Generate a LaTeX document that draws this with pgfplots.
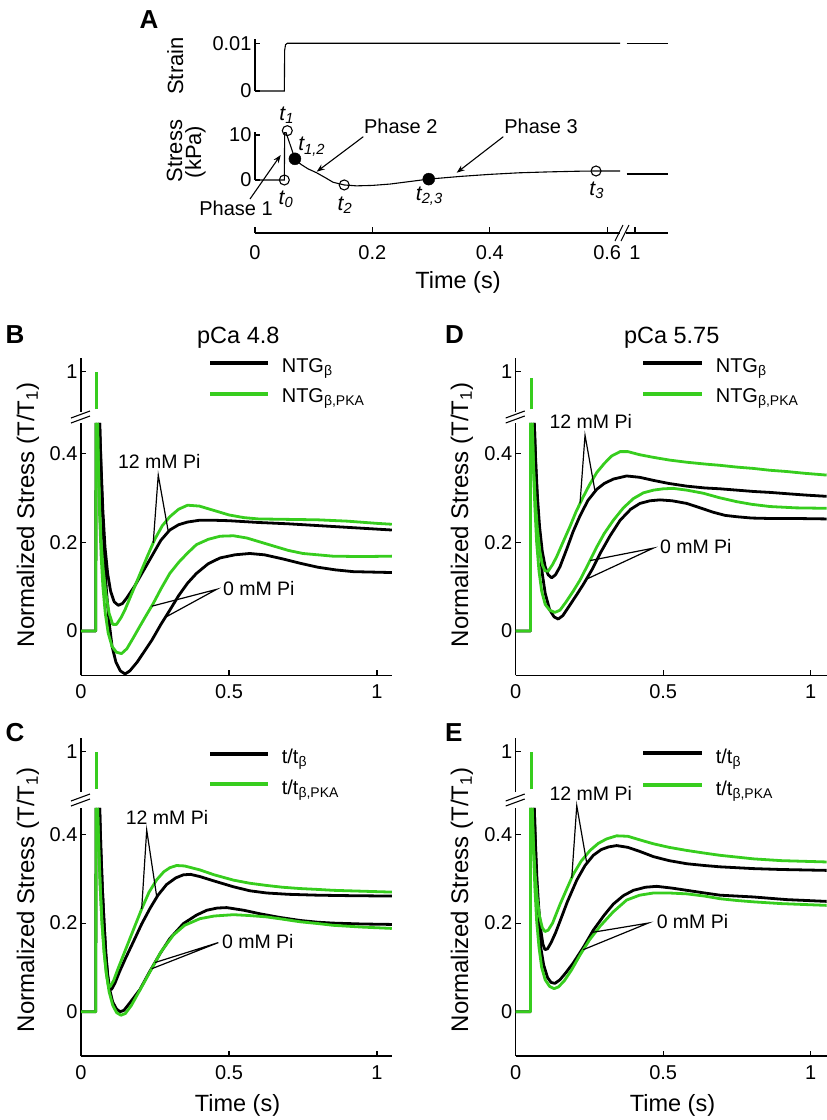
\documentclass[border=0pt]{standalone}
\usepackage{pgfplots}
\pgfplotsset{compat=1.18}
\usepackage{fontspec}
\setmainfont{Liberation Sans}
\usetikzlibrary{arrows.meta}
\definecolor{grn}{RGB}{55,205,30}
\newcommand\fs[1]{\fontsize{#1}{#1}\selectfont}
\tikzset{
  k/.style={black, line width=2.8pt, line join=round},
  g/.style={grn, line width=2.8pt, line join=round},
  ptr/.style={black, line width=1.2pt},
}
\pgfplotsset{
  myax/.style={scale only axis, anchor=south west, clip=false,
    axis line style={line width=1.1pt,-},
    every outer x axis line/.append style={-}, every outer y axis line/.append style={-},
    every inner x axis line/.append style={-}, every inner y axis line/.append style={-},
    tick style={line width=1.1pt, black}, major tick length=5pt, tick align=inside,
    tick label style={font=\fs{20}}, scaled y ticks=false, scaled x ticks=false,
    /pgf/number format/assume math mode=true},
  lowL/.style={myax, width=311pt, xmin=0, xmax=1.0507, ymin=-0.1,
    axis x line*=bottom, axis y line*=left, xtick={0,0.5,1}, ytick={0,0.2,0.4},
    xticklabel style={yshift=-6pt}},
  lowR/.style={lowL, xmax=1.0542},
  upL/.style={myax, width=311pt, height=54pt, xmin=0, xmax=1.0507, ymin=0.7, ymax=1.1,
    hide x axis, axis y line*=left, ytick={1}},
  upR/.style={upL, xmax=1.0542},
}
\begin{document}
\begin{tikzpicture}
\useasboundingbox (0pt,0pt) rectangle (827pt,-1120pt);

% ================= Panel A =================
\begin{axis}[myax, at={(255pt,-91pt)}, width=413pt, height=52.5pt,
  xmin=0, xmax=0.7036, ymin=0, ymax=0.011, hide x axis, axis y line*=left,
  ytick={0,0.01}, yticklabels={0,0.01}]
\addplot[black, line width=1.1pt] coordinates {(0,0)(0.05,0)(0.0505,0.0085)(0.052,0.0097)(0.055,0.01)(0.622,0.01)};
\addplot[black, line width=1.1pt] coordinates {(0.6332,0.01)(0.7036,0.01)};
\end{axis}

\begin{axis}[myax, at={(255pt,-180pt)}, width=413pt, height=48.2pt,
  xmin=0, xmax=0.7036, ymin=0, ymax=10.7, hide x axis, axis y line*=left,
  ytick={0,10}]
\addplot[black, line width=1.1pt] coordinates {(0,0)(0.05,0)(0.0505,10.5)(0.053,10.5)(0.068,4.7)(0.078,3.5)(0.09,2.5)(0.105,1.6)(0.12,0.5)(0.133,-0.5)(0.152,-1.1)(0.173,-1.3)(0.20,-1.2)(0.23,-0.9)(0.26,-0.4)(0.296,0.2)(0.35,0.8)(0.40,1.25)(0.45,1.6)(0.50,1.8)(0.55,1.95)(0.58,2.0)(0.622,2.0)};
\addplot[black, line width=1.1pt] coordinates {(0.6332,1.33)(0.7036,1.33)};
\addplot[only marks, mark=o, mark size=5pt, mark options={line width=1.1pt, black}] coordinates {(0.05,0)(0.055,10.95)(0.152,-1.1)(0.581,2.0)};
\addplot[only marks, mark=*, mark size=6pt, mark options={black}] coordinates {(0.068,4.7)(0.296,0.2)};
\end{axis}

\begin{axis}[myax, at={(255pt,-233pt)}, width=413pt, height=10pt,
  xmin=0, xmax=0.7036, ymin=0, ymax=1, hide y axis, axis x line*=bottom,
  major tick length=6pt,
  xtick={0,0.2,0.4,0.6,0.6474}, xticklabels={0,0.2,0.4,0.6,1},
  xticklabel style={yshift=-9pt}]
\addplot[draw=none] coordinates {(0,0)(0.7,0)};
\end{axis}
% break marks on time axis
\fill[white] (619.5pt,-230pt) rectangle (626pt,-236pt);
\draw[line width=1.1pt] (615pt,-241pt) -- (623pt,-225pt);
\draw[line width=1.1pt] (621pt,-241pt) -- (629pt,-225pt);

\node[anchor=base west, font=\fs{26}\bfseries] at (136pt,-28pt) {A};
\node[rotate=90, anchor=base, font=\fs{22}] at (183pt,-66pt) {Strain};
\node[rotate=90, anchor=base, font=\fs{22}] at (182pt,-151pt) {Stress};
\node[rotate=90, anchor=base, font=\fs{22}] at (201pt,-152pt) {(kPa)};
\node[anchor=base, font=\fs{23.5}] at (458pt,-288pt) {Time (s)};

\node[font=\fs{21}] at (286.7pt,-115pt) {\itshape t\textsubscript{1}};
\node[font=\fs{21}] at (311.7pt,-146.7pt) {\itshape t\textsubscript{1,2}};
\node[font=\fs{21}] at (286pt,-199.3pt) {\itshape t\textsubscript{0}};
\node[font=\fs{21}] at (345pt,-205pt) {\itshape t\textsubscript{2}};
\node[font=\fs{21}] at (429.3pt,-196pt) {\itshape t\textsubscript{2,3}};
\node[font=\fs{21}] at (596.7pt,-190pt) {\itshape t\textsubscript{3}};

\node[anchor=base, font=\fs{20}] at (236pt,-215pt) {Phase 1};
\node[anchor=base, font=\fs{20}] at (400.8pt,-133.3pt) {Phase 2};
\node[anchor=base, font=\fs{20}] at (541pt,-133.3pt) {Phase 3};
\draw[line width=1.1pt, -{Stealth[length=8pt,width=6pt]}] (250pt,-199pt) -- (280.7pt,-155pt);
\draw[line width=1.1pt, -{Stealth[length=8pt,width=6pt]}] (363.3pt,-136.7pt) -- (316.7pt,-171.7pt);
\draw[line width=1.1pt, -{Stealth[length=8pt,width=6pt]}] (503.3pt,-136.7pt) -- (456.7pt,-172.7pt);

% ================= Panel B =================
\begin{axis}[upL, at={(81pt,-412pt)}]
\addplot[g] coordinates {(0.053,0.72)(0.053,1.0)};
\end{axis}
\begin{axis}[lowL, at={(81pt,-675.3pt)}, height=252.5pt, ymax=0.47]
\addplot[k] coordinates {(0,0)(0.05,0)(0.0505,0.47)};
\addplot[k] coordinates {(0.063,0.47)(0.068,0.37)(0.074,0.27)(0.081,0.19)(0.09,0.13)(0.10,0.09)(0.112,0.066)(0.126,0.058)(0.14,0.062)(0.155,0.075)(0.18,0.10)(0.21,0.135)(0.24,0.17)(0.27,0.205)(0.30,0.228)(0.33,0.24)(0.36,0.246)(0.40,0.25)(0.45,0.25)(0.50,0.249)(0.60,0.245)(0.70,0.242)(0.80,0.238)(0.90,0.234)(1.00,0.23)(1.05,0.228)};
\addplot[k] coordinates {(0.063,0.47)(0.068,0.36)(0.073,0.26)(0.079,0.17)(0.086,0.09)(0.095,0.02)(0.105,-0.035)(0.118,-0.07)(0.133,-0.09)(0.149,-0.097)(0.165,-0.09)(0.19,-0.07)(0.215,-0.045)(0.24,-0.02)(0.27,0.015)(0.30,0.047)(0.33,0.08)(0.36,0.108)(0.39,0.13)(0.43,0.152)(0.47,0.165)(0.52,0.172)(0.57,0.175)(0.62,0.172)(0.68,0.163)(0.74,0.153)(0.80,0.144)(0.86,0.138)(0.92,0.134)(1.05,0.132)};
\addplot[g] coordinates {(0,0)(0.05,0)(0.0505,0.47)};
\addplot[g] coordinates {(0.056,0.47)(0.059,0.37)(0.063,0.28)(0.068,0.20)(0.075,0.14)(0.084,0.085)(0.095,0.04)(0.107,0.015)(0.12,0.015)(0.135,0.03)(0.15,0.05)(0.175,0.09)(0.20,0.13)(0.225,0.17)(0.25,0.208)(0.275,0.238)(0.30,0.258)(0.33,0.275)(0.36,0.284)(0.40,0.282)(0.45,0.272)(0.50,0.262)(0.55,0.256)(0.60,0.253)(0.70,0.252)(0.80,0.251)(0.90,0.248)(1.00,0.243)(1.05,0.241)};
\addplot[g] coordinates {(0.056,0.47)(0.059,0.36)(0.063,0.26)(0.068,0.17)(0.074,0.10)(0.082,0.04)(0.092,-0.005)(0.105,-0.035)(0.12,-0.048)(0.137,-0.051)(0.155,-0.04)(0.177,-0.015)(0.20,0.012)(0.22,0.035)(0.244,0.062)(0.27,0.095)(0.30,0.13)(0.33,0.155)(0.36,0.176)(0.39,0.195)(0.43,0.207)(0.47,0.214)(0.515,0.215)(0.56,0.21)(0.63,0.196)(0.70,0.182)(0.75,0.175)(0.85,0.169)(0.95,0.168)(1.05,0.169)};
\draw[ptr] (axis cs:0.244,0.199) -- (axis cs:0.261,0.352) -- (axis cs:0.295,0.224);
\draw[ptr] (axis cs:0.239,0.056) -- (axis cs:0.458,0.094) -- (axis cs:0.285,0.031);
\end{axis}

% ================= Panel D =================
\begin{axis}[upR, at={(515.7pt,-412pt)}]
\addplot[g] coordinates {(0.053,0.72)(0.053,0.95)};
\end{axis}
\begin{axis}[lowR, at={(515.7pt,-675.3pt)}, height=252.5pt, ymax=0.47]
\addplot[k] coordinates {(0,0)(0.05,0)(0.0505,0.47)};
\addplot[k] coordinates {(0.063,0.47)(0.068,0.38)(0.074,0.30)(0.081,0.235)(0.09,0.18)(0.10,0.145)(0.11,0.127)(0.122,0.12)(0.135,0.127)(0.15,0.145)(0.173,0.185)(0.195,0.225)(0.218,0.26)(0.245,0.295)(0.275,0.32)(0.30,0.333)(0.331,0.343)(0.376,0.35)(0.42,0.347)(0.467,0.34)(0.52,0.333)(0.58,0.327)(0.64,0.323)(0.693,0.321)(0.75,0.318)(0.806,0.315)(0.86,0.313)(0.919,0.31)(0.98,0.307)(1.054,0.304)};
\addplot[k] coordinates {(0.063,0.47)(0.068,0.37)(0.074,0.28)(0.081,0.20)(0.09,0.13)(0.10,0.085)(0.115,0.048)(0.13,0.032)(0.144,0.027)(0.16,0.035)(0.18,0.055)(0.205,0.08)(0.229,0.105)(0.26,0.14)(0.286,0.175)(0.32,0.215)(0.354,0.25)(0.39,0.275)(0.421,0.288)(0.455,0.294)(0.489,0.296)(0.53,0.294)(0.58,0.288)(0.63,0.277)(0.67,0.268)(0.71,0.261)(0.749,0.258)(0.80,0.255)(0.862,0.254)(0.95,0.254)(1.054,0.253)};
\addplot[g] coordinates {(0,0)(0.05,0)(0.0505,0.47)};
\addplot[g] coordinates {(0.056,0.47)(0.06,0.38)(0.066,0.30)(0.073,0.235)(0.082,0.18)(0.09,0.15)(0.099,0.136)(0.11,0.135)(0.125,0.15)(0.139,0.168)(0.16,0.20)(0.184,0.236)(0.205,0.27)(0.229,0.303)(0.25,0.33)(0.275,0.358)(0.30,0.378)(0.325,0.395)(0.354,0.405)(0.38,0.405)(0.42,0.398)(0.467,0.392)(0.52,0.386)(0.58,0.381)(0.64,0.377)(0.693,0.374)(0.75,0.37)(0.806,0.367)(0.86,0.363)(0.919,0.36)(0.98,0.356)(1.054,0.352)};
\addplot[g] coordinates {(0.056,0.47)(0.06,0.37)(0.065,0.28)(0.071,0.20)(0.079,0.135)(0.088,0.09)(0.10,0.06)(0.115,0.047)(0.133,0.042)(0.15,0.047)(0.17,0.065)(0.195,0.09)(0.218,0.115)(0.245,0.15)(0.275,0.19)(0.30,0.22)(0.331,0.25)(0.365,0.278)(0.399,0.299)(0.433,0.312)(0.467,0.318)(0.50,0.321)(0.534,0.322)(0.58,0.318)(0.636,0.311)(0.69,0.301)(0.749,0.292)(0.80,0.286)(0.862,0.281)(0.95,0.278)(1.054,0.277)};
\draw[ptr] (axis cs:0.218,0.288) -- (axis cs:0.235,0.442) -- (axis cs:0.269,0.315);
\draw[ptr] (axis cs:0.252,0.159) -- (axis cs:0.466,0.187) -- (axis cs:0.240,0.117);
\end{axis}

% ================= Panel C =================
\begin{axis}[upL, at={(81pt,-792pt)}]
\addplot[g] coordinates {(0.053,0.72)(0.053,1.0)};
\end{axis}
\begin{axis}[lowL, at={(81pt,-1056pt)}, height=248.1pt, ymax=0.46]
\addplot[k] coordinates {(0,0)(0.05,0)(0.0505,0.46)};
\addplot[k] coordinates {(0.063,0.46)(0.067,0.37)(0.072,0.28)(0.078,0.20)(0.084,0.13)(0.09,0.08)(0.096,0.052)(0.103,0.05)(0.115,0.065)(0.13,0.09)(0.15,0.12)(0.177,0.158)(0.205,0.198)(0.233,0.233)(0.26,0.263)(0.289,0.287)(0.32,0.302)(0.346,0.309)(0.37,0.31)(0.402,0.305)(0.45,0.295)(0.515,0.282)(0.57,0.273)(0.627,0.268)(0.70,0.265)(0.80,0.263)(0.90,0.262)(1.05,0.261)};
\addplot[k] coordinates {(0.063,0.46)(0.067,0.37)(0.072,0.28)(0.078,0.20)(0.084,0.13)(0.09,0.085)(0.097,0.05)(0.107,0.022)(0.12,0.006)(0.132,0.0)(0.145,0.003)(0.165,0.02)(0.199,0.05)(0.23,0.088)(0.267,0.131)(0.30,0.165)(0.346,0.199)(0.39,0.218)(0.425,0.229)(0.46,0.234)(0.492,0.235)(0.55,0.229)(0.605,0.221)(0.67,0.213)(0.74,0.206)(0.80,0.202)(0.852,0.2)(0.95,0.198)(1.05,0.197)};
\addplot[g] coordinates {(0,0)(0.05,0)(0.0505,0.46)};
\addplot[g] coordinates {(0.056,0.46)(0.06,0.37)(0.065,0.28)(0.071,0.20)(0.078,0.135)(0.085,0.088)(0.092,0.06)(0.099,0.057)(0.11,0.07)(0.125,0.097)(0.154,0.146)(0.18,0.19)(0.205,0.232)(0.23,0.27)(0.256,0.298)(0.28,0.316)(0.30,0.325)(0.323,0.33)(0.35,0.329)(0.402,0.32)(0.45,0.309)(0.515,0.297)(0.57,0.29)(0.627,0.285)(0.68,0.281)(0.74,0.278)(0.80,0.276)(0.852,0.274)(0.95,0.272)(1.05,0.27)};
\addplot[g] coordinates {(0.056,0.46)(0.06,0.37)(0.065,0.28)(0.071,0.20)(0.078,0.135)(0.086,0.085)(0.095,0.045)(0.107,0.015)(0.12,-0.002)(0.135,-0.008)(0.15,-0.004)(0.17,0.014)(0.20,0.05)(0.233,0.09)(0.27,0.135)(0.312,0.173)(0.35,0.195)(0.402,0.21)(0.45,0.216)(0.515,0.219)(0.57,0.217)(0.627,0.214)(0.68,0.209)(0.74,0.203)(0.80,0.199)(0.852,0.195)(0.95,0.191)(1.05,0.188)};
\draw[ptr] (axis cs:0.205,0.232) -- (axis cs:0.222,0.41) -- (axis cs:0.256,0.259);
\draw[ptr] (axis cs:0.25,0.111) -- (axis cs:0.464,0.156) -- (axis cs:0.239,0.097);
\end{axis}

% ================= Panel E =================
\begin{axis}[upR, at={(515.7pt,-792pt)}]
\addplot[g] coordinates {(0.053,0.72)(0.053,1.0)};
\end{axis}
\begin{axis}[lowR, at={(515.7pt,-1056pt)}, height=248.1pt, ymax=0.46]
\addplot[k] coordinates {(0,0)(0.05,0)(0.0505,0.46)};
\addplot[k] coordinates {(0.063,0.46)(0.067,0.38)(0.072,0.30)(0.078,0.235)(0.085,0.185)(0.092,0.153)(0.099,0.14)(0.108,0.142)(0.12,0.156)(0.135,0.178)(0.15,0.204)(0.175,0.248)(0.207,0.297)(0.235,0.33)(0.263,0.353)(0.29,0.366)(0.315,0.372)(0.342,0.375)(0.38,0.371)(0.42,0.362)(0.467,0.35)(0.52,0.341)(0.58,0.334)(0.64,0.33)(0.693,0.327)(0.75,0.325)(0.806,0.323)(0.90,0.321)(1.054,0.319)};
\addplot[k] coordinates {(0.063,0.46)(0.067,0.37)(0.072,0.28)(0.078,0.20)(0.085,0.145)(0.095,0.105)(0.108,0.077)(0.12,0.066)(0.133,0.064)(0.15,0.072)(0.17,0.088)(0.195,0.11)(0.23,0.146)(0.263,0.184)(0.30,0.218)(0.331,0.243)(0.365,0.262)(0.399,0.274)(0.44,0.281)(0.478,0.283)(0.53,0.279)(0.58,0.274)(0.64,0.268)(0.693,0.263)(0.75,0.261)(0.806,0.259)(0.862,0.256)(0.919,0.253)(1.054,0.249)};
\addplot[g] coordinates {(0,0)(0.05,0)(0.0505,0.46)};
\addplot[g] coordinates {(0.056,0.46)(0.06,0.38)(0.066,0.31)(0.073,0.255)(0.081,0.215)(0.09,0.19)(0.099,0.181)(0.11,0.184)(0.125,0.2)(0.15,0.242)(0.175,0.28)(0.195,0.31)(0.222,0.34)(0.252,0.364)(0.28,0.38)(0.308,0.39)(0.342,0.397)(0.38,0.396)(0.42,0.388)(0.467,0.379)(0.52,0.371)(0.58,0.364)(0.64,0.358)(0.693,0.353)(0.75,0.349)(0.806,0.345)(0.90,0.341)(1.054,0.338)};
\addplot[g] coordinates {(0.056,0.46)(0.06,0.37)(0.065,0.28)(0.071,0.205)(0.079,0.145)(0.088,0.1)(0.10,0.072)(0.115,0.057)(0.13,0.052)(0.145,0.056)(0.165,0.07)(0.19,0.095)(0.218,0.128)(0.25,0.162)(0.286,0.193)(0.33,0.225)(0.376,0.252)(0.42,0.263)(0.467,0.268)(0.52,0.268)(0.58,0.266)(0.64,0.261)(0.693,0.255)(0.75,0.251)(0.806,0.248)(0.90,0.244)(1.054,0.24)};
\draw[ptr] (axis cs:0.19,0.302) -- (axis cs:0.207,0.465) -- (axis cs:0.241,0.335);
\draw[ptr] (axis cs:0.259,0.179) -- (axis cs:0.449,0.20) -- (axis cs:0.229,0.14);
\end{axis}

% ---- y-axis break marks ----
\foreach \xx/\yy in {81/417, 515.7/417, 81/800, 515.7/800}{
  \draw[line width=1.1pt] (\xx pt-10pt,-\yy pt-6pt) -- (\xx pt+9pt,-\yy pt+1pt);
  \draw[line width=1.1pt] (\xx pt-10pt,-\yy pt-1pt) -- (\xx pt+9pt,-\yy pt+6pt);
}

% ---- panel letters, titles ----
\node[anchor=base west, font=\fs{26}\bfseries] at (2pt,-343pt) {B};
\node[anchor=base west, font=\fs{26}\bfseries] at (2pt,-741.7pt) {C};
\node[anchor=base west, font=\fs{26}\bfseries] at (441.7pt,-343pt) {D};
\node[anchor=base west, font=\fs{26}\bfseries] at (441.7pt,-741.7pt) {E};
\node[anchor=base, font=\fs{23.5}] at (238.3pt,-343pt) {pCa 4.8};
\node[anchor=base, font=\fs{23.5}] at (671.7pt,-343pt) {pCa 5.75};

% ---- y labels ----
\node[rotate=90, font=\fs{24}] at (28pt,-515pt) {Normalized Stress (T/T\textsubscript{1})};
\node[rotate=90, font=\fs{24}] at (28pt,-900pt) {Normalized Stress (T/T\textsubscript{1})};
\node[rotate=90, font=\fs{24}] at (462pt,-515pt) {Normalized Stress (T/T\textsubscript{1})};
\node[rotate=90, font=\fs{24}] at (462pt,-900pt) {Normalized Stress (T/T\textsubscript{1})};

% ---- x labels ----
\node[anchor=base, font=\fs{23.5}] at (237.5pt,-1111.5pt) {Time (s)};
\node[anchor=base, font=\fs{23.5}] at (672.5pt,-1111.5pt) {Time (s)};

% ---- legends ----
\draw[black, line width=4pt] (210pt,-363.3pt) -- (268.3pt,-363.3pt);
\draw[grn, line width=4pt] (210pt,-394.3pt) -- (268.3pt,-394.3pt);
\node[anchor=base west, font=\fs{20}] at (278.3pt,-372pt) {NTG\textsubscript{β}};
\node[anchor=base west, font=\fs{20}] at (278.3pt,-402pt) {NTG\textsubscript{β,PKA}};
\draw[black, line width=4pt] (643.3pt,-363.3pt) -- (701.7pt,-363.3pt);
\draw[grn, line width=4pt] (643.3pt,-394.3pt) -- (701.7pt,-394.3pt);
\node[anchor=base west, font=\fs{20}] at (712.3pt,-372pt) {NTG\textsubscript{β}};
\node[anchor=base west, font=\fs{20}] at (712.3pt,-402pt) {NTG\textsubscript{β,PKA}};
\draw[black, line width=4pt] (210pt,-754pt) -- (268.3pt,-754pt);
\draw[grn, line width=4pt] (210pt,-784pt) -- (268.3pt,-784pt);
\node[anchor=base west, font=\fs{20}] at (278.3pt,-763pt) {t/t\textsubscript{β}};
\node[anchor=base west, font=\fs{20}] at (278.3pt,-794pt) {t/t\textsubscript{β,PKA}};
\draw[black, line width=4pt] (643.3pt,-753.3pt) -- (701.7pt,-753.3pt);
\draw[grn, line width=4pt] (643.3pt,-785pt) -- (701.7pt,-785pt);
\node[anchor=base west, font=\fs{20}] at (712.3pt,-763pt) {t/t\textsubscript{β}};
\node[anchor=base west, font=\fs{20}] at (712.3pt,-795pt) {t/t\textsubscript{β,PKA}};

% ---- annotations ----
\node[anchor=base, font=\fs{19.5}] at (159.3pt,-468pt) {12 mM Pi};
\node[anchor=base, font=\fs{19.5}] at (590.8pt,-428pt) {12 mM Pi};
\node[anchor=base, font=\fs{19.5}] at (167pt,-824pt) {12 mM Pi};
\node[anchor=base, font=\fs{19.5}] at (590.8pt,-800pt) {12 mM Pi};
\node[anchor=base, font=\fs{19.5}] at (258.8pt,-595pt) {0 mM Pi};
\node[anchor=base, font=\fs{19.5}] at (695.8pt,-553pt) {0 mM Pi};
\node[anchor=base, font=\fs{19.5}] at (257.8pt,-948pt) {0 mM Pi};
\node[anchor=base, font=\fs{19.5}] at (692.5pt,-928pt) {0 mM Pi};
\end{tikzpicture}
\end{document}
